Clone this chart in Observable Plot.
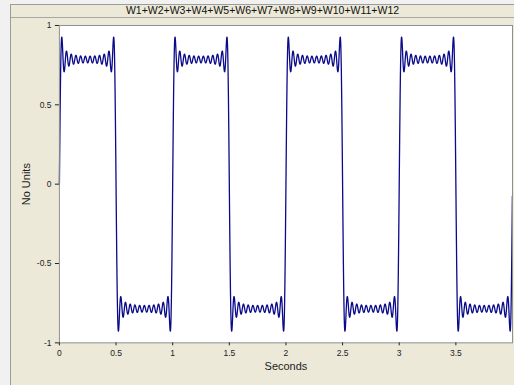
<!DOCTYPE html>
<html>
<head>
<meta charset="utf-8">
<script src="https://cdn.jsdelivr.net/npm/d3@7"></script>
<script src="https://cdn.jsdelivr.net/npm/@observablehq/plot@0.6"></script>
<style>
  html, body { margin: 0; padding: 0; }
  body {
    width: 514px; height: 385px; overflow: hidden; position: relative;
    background: #f1f1f1;
    font-family: "Liberation Sans", Arial, sans-serif;
  }
  #panel {
    position: absolute; left: 10px; top: 4px; width: 504px; height: 381px;
    background: #ece9d8; border-left: 1px solid #9c9c9c; border-top: 1px solid #9c9c9c;
    box-sizing: border-box;
  }
  #title {
    position: absolute; left: 0; top: 0; width: 100%; height: 12px;
    border-bottom: 1px solid #a8a8a0; box-sizing: content-box;
    text-align: center; font-size: 10.5px; line-height: 11px; color: #111;
  }
  #chart { position: absolute; left: -1px; top: 12px; }
</style>
</head>
<body>
<div id="panel">
  <div id="title"></div>
  <div id="chart"></div>
</div>
<script>
// Component waves of the sum: odd harmonics of a 1 Hz fundamental
const waveNames = ["W1","W2","W3","W4","W5","W6","W7","W8","W9","W10","W11","W12"];
const waveFreqHz = [1, 3, 5, 7, 9, 11, 13, 15, 17, 19, 21, 23];
const waveAmp = [1, 0.3333, 0.2, 0.1429, 0.1111, 0.0909, 0.0769, 0.0667, 0.0588, 0.0526, 0.0476, 0.0435];

// Record: 4000 samples at 1000 Hz
const sampleRate = 1000;
const sampleCount = 4000;

const xTicks = [0, 0.5, 1, 1.5, 2, 2.5, 3, 3.5];
const yTicks = [-1, -0.5, 0, 0.5, 1];

document.getElementById("title").textContent = waveNames.join("+");

const samples = d3.range(sampleCount).map(i => {
  const t = i / sampleRate;
  let v = 0;
  for (let k = 0; k < waveNames.length; k++) v += waveAmp[k] * Math.sin(2 * Math.PI * waveFreqHz[k] * t);
  return {t, v};
});

const chart = Plot.plot({
  width: 505,
  height: 369,
  marginLeft: 49,
  marginRight: 2,
  marginTop: 8,
  marginBottom: 43,
  style: {fontFamily: "Liberation Sans, Arial, sans-serif", fontSize: "8.5px", color: "#222", background: "transparent"},
  x: {domain: [0, 4]},
  y: {domain: [-1, 1]},
  marks: [
    Plot.frame({fill: "white", stroke: "none"}),
    Plot.line(samples, {x: "t", y: "v", stroke: "#0a0a8a", strokeWidth: 1.3}),
    Plot.frame({stroke: "#909090", strokeWidth: 1}),
    Plot.axisX({ticks: xTicks, tickFormat: d => String(d), tickSize: 3, tickPadding: 4, label: null}),
    Plot.axisY({ticks: yTicks, tickFormat: d => String(d), tickSize: 4, tickPadding: 4, label: null}),
    Plot.axisX({ticks: [], label: "Seconds", labelAnchor: "center", labelOffset: 27, labelArrow: "none", fontSize: 11}),
    Plot.axisY({ticks: [], label: "No Units", labelAnchor: "center", labelOffset: 37, labelArrow: "none", fontSize: 11})
  ]
});
document.getElementById("chart").appendChild(chart);
</script>
</body>
</html>
